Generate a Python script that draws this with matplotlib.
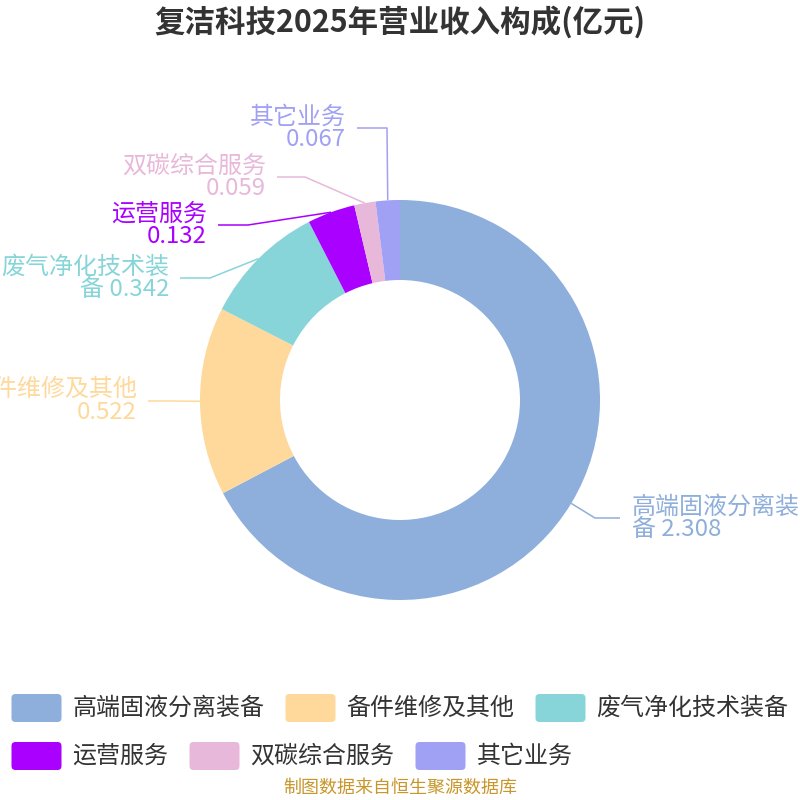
import matplotlib
matplotlib.use("Agg")
import matplotlib.pyplot as plt
import numpy as np
from matplotlib.patches import FancyBboxPatch

plt.rcParams['font.family'] = ['Noto Sans CJK SC', 'DejaVu Sans']

title = "复洁科技2025年营业收入构成(亿元)"
source = "制图数据来自恒生聚源数据库"
categories = ["高端固液分离装备", "备件维修及其他", "废气净化技术装备", "运营服务", "双碳综合服务", "其它业务"]
values = [2.308, 0.522, 0.342, 0.132, 0.059, 0.067]
value_labels = ["2.308", "0.522", "0.342", "0.132", "0.059", "0.067"]
colors = ["#8eaedb", "#fed99b", "#87d5d9", "#aa00ff", "#e8b8da", "#a0a0f5"]

# label layout (pixel space, y down): elbow points and line ends
elbows = [(595, 518), (172, 401), (210, 278), (248, 225), (305, 177), (387, 128)]
ends = [(620, 518), (148, 401), (180, 278), (218, 225), (277, 177), (357, 128)]

PX = 0.72  # px -> pt at dpi 100

fig = plt.figure(figsize=(8, 8), dpi=100)
ax = fig.add_axes([0, 0, 1, 1])
cx, cy, R, W = 400, 400, 200, 80
ax.pie(values, colors=colors, startangle=-90, counterclock=True,
       radius=R, center=(cx, cy), wedgeprops=dict(width=W, linewidth=0))
ax.set_xlim(0, 800)
ax.set_ylim(800, 0)
ax.set_aspect('equal')
ax.axis('off')

total = sum(values)
cum = 0.0
for i, v in enumerate(values):
    th = np.deg2rad(-90 + (cum + v / 2) / total * 360)
    cum += v
    sx, sy = cx + R * np.cos(th), cy + R * np.sin(th)
    ex, ey = elbows[i]
    fx, fy = ends[i]
    ax.plot([sx, ex, fx], [sy, ey, fy], color=colors[i], lw=1.1, solid_capstyle='butt')
    name = categories[i]
    if len(name) > 7:
        txt = name[:7] + "\n" + name[7:] + " " + value_labels[i]
    else:
        txt = name + "\n" + value_labels[i]
    right = fx > ex
    ax.text(fx + (12 if right else -11), fy, txt, color=colors[i],
            fontsize=24 * PX, ha='left' if right else 'right', va='center',
            multialignment='left' if right else 'right', linespacing=0.95)

# title and source
fig.text(0.5, 1 - 22 / 800, title, ha='center', va='center', fontsize=30.5 * PX,
         fontweight='bold', color='#333333')
fig.text(0.5, 1 - 788 / 800, source, ha='center', va='center', fontsize=18 * PX,
         color='#c8962a')

# legend (flow layout)
renderer = fig.canvas.get_renderer()
box_w, box_h, gap_bt, gap_item = 50, 28, 11, 21
widths = []
for c in categories:
    t = ax.text(0, 0, c, fontsize=24 * PX)
    bb = t.get_window_extent(renderer)
    widths.append(bb.width)
    t.remove()
rows, cur, cur_w = [], [], 0
max_w = 780
for i, w in enumerate(widths):
    iw = box_w + gap_bt + w
    add = iw if not cur else gap_item + iw
    if cur and cur_w + add > max_w:
        rows.append((cur, cur_w))
        cur, cur_w = [], 0
        add = iw
    cur.append(i)
    cur_w += add
rows.append((cur, cur_w))
total_w = max(r[1] for r in rows)
x0 = (800 - total_w) / 2
row_y = [708, 756]
for r, (items, _) in enumerate(rows):
    x = x0
    y = row_y[r]
    for i in items:
        ax.add_patch(FancyBboxPatch((x + 4, y - box_h / 2 + 4), box_w - 8, box_h - 8,
                                    boxstyle="round,pad=4", facecolor=colors[i],
                                    edgecolor='none'))
        ax.text(x + box_w + gap_bt, y, categories[i], fontsize=24 * PX,
                color='#333333', ha='left', va='center')
        x += box_w + gap_bt + widths[i] + gap_item

fig.savefig("out.png", dpi=100)
